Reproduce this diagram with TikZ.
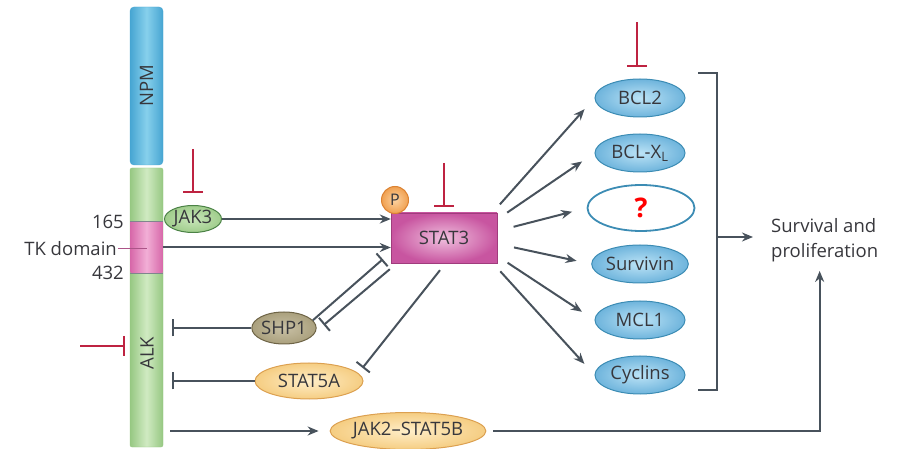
\documentclass[tikz,border=0pt]{standalone}
\usepackage{fontspec}
\setmainfont{Open Sans}
\usetikzlibrary{shapes.geometric,arrows.meta}

\definecolor{linegray}{RGB}{72,82,92}
\definecolor{inhred}{RGB}{190,35,65}
\definecolor{txtgray}{RGB}{55,55,60}
\definecolor{npmdark}{RGB}{70,165,210}
\definecolor{npmlight}{RGB}{135,208,236}
\definecolor{alkdark}{RGB}{150,200,130}
\definecolor{alklight}{RGB}{208,234,194}
\definecolor{tkdark}{RGB}{215,105,170}
\definecolor{tklight}{RGB}{242,175,214}
\definecolor{statdark}{RGB}{200,85,160}
\definecolor{statlight}{RGB}{240,192,222}
\definecolor{statedge}{RGB}{160,60,125}
\definecolor{jakfill}{RGB}{160,205,140}
\definecolor{jaklight}{RGB}{200,230,185}
\definecolor{jakedge}{RGB}{75,130,70}
\definecolor{shpfill}{RGB}{170,160,125}
\definecolor{shplight}{RGB}{200,192,165}
\definecolor{shpedge}{RGB}{110,100,70}
\definecolor{stfill}{RGB}{245,205,130}
\definecolor{stlight}{RGB}{255,238,200}
\definecolor{stedge}{RGB}{220,160,80}
\definecolor{pfill}{RGB}{240,160,80}
\definecolor{plight}{RGB}{252,210,160}
\definecolor{pedge}{RGB}{220,130,50}
\definecolor{bluemid}{RGB}{110,180,220}
\definecolor{bluelight}{RGB}{188,227,246}
\definecolor{bluedark}{RGB}{60,140,180}

\begin{document}
\begin{tikzpicture}[x=1pt,y=-1pt,
  arr/.style={draw=linegray,line width=2pt,-{Stealth[length=11pt,width=9pt]}},
  inh/.style={draw=linegray,line width=2pt,-{Bar[width=17pt]}},
  redinh/.style={draw=inhred,line width=2pt,-{Bar[width=20pt]}},
  blob/.style={ellipse,inner sep=0pt,line width=1pt},
  target/.style={blob,minimum width=90pt,minimum height=38pt,draw=bluedark,inner color=bluelight,outer color=bluemid}]
\tikzstyle{every node}=[font=\fontsize{18.5}{22}\selectfont,text=txtgray]
\useasboundingbox (0,0) rectangle (898,449);

\node[draw=npmdark,rounded corners=4pt,minimum width=33pt,minimum height=158pt,left color=npmdark,right color=npmdark,middle color=npmlight] (npm) at (146.5,86) {};
\node[rotate=90] (npmlab) at (npm) {NPM};
\node[draw=alkdark,rounded corners=2pt,minimum width=33pt,minimum height=279pt,left color=alkdark,right color=alkdark,middle color=alklight] (alk) at (146.5,307.5) {};
\node[minimum width=32pt,minimum height=51pt,left color=tkdark,right color=tkdark,middle color=tklight] (tk) at (146.5,247.5) {};
\draw[linegray!70,line width=1pt] (tk.north west) -- (tk.north east) (tk.south west) -- (tk.south east);
\node[rotate=90] (alklab) at (147,353) {ALK};
\node[anchor=east,inner sep=1pt] (l165) at (125,222) {165};
\node[anchor=east,inner sep=1pt] (ltk) at (118,249) {TK domain};
\node[anchor=east,inner sep=1pt] (l432) at (125,273) {432};
\draw[tkdark!80!black,line width=1pt] (ltk.east) -- (ltk.east -| tk);

\node[blob,draw=jakedge,minimum width=57pt,minimum height=27pt,inner color=jaklight,outer color=jakfill] (jak3) at (193,219) {JAK3};
\node[draw=statedge,minimum width=106pt,minimum height=50pt,inner color=statlight,outer color=statdark] (stat3) at (444,238) {STAT3};
\node[circle,draw=pedge,line width=1pt,minimum size=27pt,inner sep=0pt,inner color=plight,outer color=pfill,font=\fontsize{16}{18}\selectfont] (p) at (395,200) {P};
\node[blob,draw=shpedge,minimum width=62pt,minimum height=32pt,inner color=shplight,outer color=shpfill] (shp1) at (284,328) {SHP1};
\node[blob,draw=stedge,minimum width=108pt,minimum height=36pt,inner color=stlight,outer color=stfill] (stat5a) at (309,381) {STAT5A};
\node[blob,draw=stedge,minimum width=150pt,minimum height=37pt,inner color=stlight,outer color=stfill] (jak2) at (408,431) {JAK2--STAT5B};

\node[target] (bcl2) at (640,98) {BCL2};
\node[target] (bclxl) at (640,153) {BCL-X\textsubscript{L}};
\node[blob,draw=bluedark,line width=1.8pt,fill=white,minimum width=107pt,minimum height=46pt,text=red,font=\fontsize{27}{29}\selectfont\bfseries] (unk) at (641,208) {?};
\node[target] (survivin) at (640,264) {Survivin};
\node[target] (mcl1) at (640,320) {MCL1};
\node[target] (cyclins) at (640,375) {Cyclins};
\node[align=left,anchor=west,inner sep=1pt,font=\fontsize{18.5}{25}\selectfont] (surv) at (770,240) {Survival and\\proliferation};

\draw[arr] (jak3.east) -- (jak3.east -| stat3.west);
\draw[arr] (tk.east) -- (tk.east -| stat3.west);
\draw[inh] (shp1.15) -- ([shift={(-8,-4)}]stat3.south west);
\draw[inh] ([shift={(-1,6)}]stat3.south west) -- ([shift={(7,-3)}]shp1.east);
\draw[inh] ([shift={(-4,7)}]stat3.south) -- ([shift={(15,0)}]stat5a.north east);
\draw[inh,shorten >=9pt] (shp1.west) -- (shp1.west -| alk.east);
\draw[inh,shorten >=9pt] (stat5a.west) -- (stat5a.west -| alk.east);
\draw[arr,shorten <=7pt,shorten >=11pt] (jak2.west -| alk.east) -- (jak2.west);
\draw[arr,shorten <=7pt,shorten >=8pt] (jak2.east) -| ([xshift=-5pt]surv.south);

\coordinate (hub) at ([xshift=26pt]stat3.center);
\foreach \g in {bcl2,bclxl,unk,survivin,mcl1,cyclins}
  \draw[arr,shorten <=45pt,shorten >=15pt] (hub) -- (\g.west);

\draw[linegray,line width=2pt] (698,73) -- (717,73) -- (717,390) -- (698,390);
\coordinate (brk) at (717,237);
\draw[arr] (brk) -- ++(36,0);

\draw[redinh] ([yshift=56pt]jak3.north) -- ([yshift=12pt]jak3.north);
\draw[redinh] ([yshift=50pt]stat3.north) -- ([yshift=6pt]stat3.north);
\draw[redinh] ([shift={(-3,-56)}]bcl2.north) -- ([shift={(-3,-11)}]bcl2.north);
\coordinate (drug) at (80,346);
\draw[redinh,shorten >=5pt] (drug) -- (drug -| alk.west);
\end{tikzpicture}
\end{document}
